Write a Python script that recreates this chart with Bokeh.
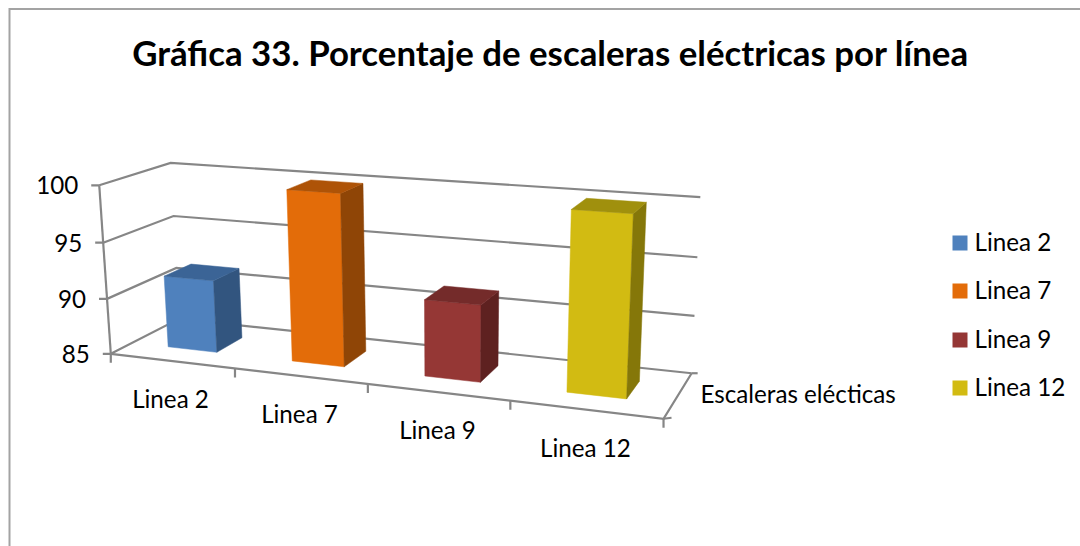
import numpy as np
from bokeh.plotting import figure
from bokeh.models import Range1d
from bokeh.core.properties import value
from bokeh.embed import file_html
from bokeh.resources import INLINE

# ---- data ----
title = "Gráfica 33. Porcentaje de escaleras eléctricas por línea"
categories = ["Linea 2", "Linea 7", "Linea 9", "Linea 12"]
series_values = [91.5, 100.0, 91.6, 100.0]
value_ticks = [85, 90, 95, 100]
depth_label = "Escaleras elécticas"
front_colors = ["#4F81BD", "#E36C09", "#953735", "#D2BB12"]
top_colors = ["#3B6496", "#AE5307", "#742B2A", "#A0900D"]
side_colors = ["#32557F", "#8F4506", "#5E2120", "#857709"]

V0, V1 = value_ticks[0], value_ticks[-1]
FONT = "Lato"
INK = "#000000"
GRID = "#868686"
LABEL_SIZE = "24.2px"

# ---- camera calibration: (category axis u, depth d, height h) -> page pixel ----
cal = [
    (0, 0, 0, 110, 354), (0, 0, 1/3, 106, 298), (0, 0, 2/3, 103, 241), (0, 0, 1, 100, 185),
    (0, 1, 0, 180, 318.5), (0, 1, 1/3, 176, 267), (0, 1, 2/3, 172, 215.7), (0, 1, 1, 169.3, 162.7),
    (1, 1, 0, 691, 372), (1, 1, 1/3, 694, 315.5), (1, 1, 2/3, 697, 257), (1, 1, 1, 700, 197),
    (.25, 0, 0, 234, 368.5), (.5, 0, 0, 367, 383.7), (.75, 0, 0, 510, 400.3), (1, 0, 0, 663, 418),
]
A, b = [], []
for u, d, h, x, y in cal:
    A.append([u, d, h, 1, 0, 0, 0, 0, -x*u, -x*d, -x*h]); b.append(x)
    A.append([0, 0, 0, 0, u, d, h, 1, -y*u, -y*d, -y*h]); b.append(y)
m = np.linalg.lstsq(np.array(A, float), np.array(b, float), rcond=None)[0]


def proj(u, d, h):
    w = m[8]*u + m[9]*d + m[10]*h + 1
    return (m[0]*u + m[1]*d + m[2]*h + m[3]) / w, (m[4]*u + m[5]*d + m[6]*h + m[7]) / w


def hv(v):
    return (v - V0) / (V1 - V0)


p = figure(width=1080, height=546, x_range=Range1d(0, 1080), y_range=Range1d(546, 0),
           toolbar_location=None, output_backend="svg", min_border=0,
           outline_line_color=None, background_fill_color="white", border_fill_color="white")
p.xaxis.visible = False
p.yaxis.visible = False
p.grid.visible = False


def seg(points, color=GRID, width=2.2):
    p.line([q[0] for q in points], [q[1] for q in points], line_color=color, line_width=width,
           line_join="miter")


# chart frame
seg([(9, 546), (9, 8.5), (1080, 8.5)], "#A3A3A3", 2)

# gridlines on the walls
for v in value_ticks:
    h = hv(v)
    seg([proj(0, 0, h), proj(0, 1, h), proj(1, 1, h)])
    x, y = proj(0, 0, h)
    seg([(x - 8, y), (x, y)])
    p.text([x - 21 + (x - 100) * 0.0], [y], text=[str(v)], text_font=value(FONT), text_font_size=LABEL_SIZE,
           text_align="right", text_baseline="middle", text_color=INK)

# axis lines
seg([proj(0, 0, 0), proj(0, 0, 1)])
seg([proj(0, 0, 0), proj(1, 0, 0), proj(1, 1, 0)])
for i in range(len(categories) + 1):
    u = i / len(categories)
    x, y = proj(u, 0, 0)
    seg([(x, y), (x, y + 9)])
x, y = proj(1, 0, 0)
seg([(x, y), (x + 8, y - 1)])
x, y = proj(1, 1, 0)
seg([(x, y), (x + 6, y)])

# bars
n = len(categories)
bw, d0, d1 = 0.4 / n, 0.3, 0.7
for i, v in enumerate(series_values):
    u0 = (i + 0.5) / n - bw / 2
    u1 = (i + 0.5) / n + bw / 2
    h = hv(v)
    faces = [
        ([(u0, d0, 0), (u1, d0, 0), (u1, d0, h), (u0, d0, h)], front_colors[i]),
        ([(u1, d0, 0), (u1, d1, 0), (u1, d1, h), (u1, d0, h)], side_colors[i]),
        ([(u0, d0, h), (u1, d0, h), (u1, d1, h), (u0, d1, h)], top_colors[i]),
    ]
    for pts, col in faces:
        xy = [proj(*q) for q in pts]
        p.patch([q[0] for q in xy], [q[1] for q in xy], fill_color=col, line_color=col, line_width=0.5)

# category labels
label_pos = [(170, 398), (299, 413), (437, 429), (585, 447)]
for name, (x, y) in zip(categories, label_pos):
    p.text([x], [y], text=[name], text_font=value(FONT), text_font_size=LABEL_SIZE,
           text_align="center", text_baseline="middle", text_color=INK)
p.text([700], [393], text=[depth_label], text_font=value(FONT), text_font_size=LABEL_SIZE,
       text_align="left", text_baseline="middle", text_color=INK)

# legend
for name, col, yc in zip(categories, front_colors, [242.5, 290.5, 339.5, 387.5]):
    p.rect([959.5], [yc], width=15, height=15, fill_color=col, line_color=None)
    p.text([974], [yc - 2], text=[name], text_font=value(FONT), text_font_size=LABEL_SIZE,
           text_align="left", text_baseline="middle", text_color=INK)

# title
p.text([550], [52], text=[title], text_font=value(FONT), text_font_size="34.8px", text_font_style="bold",
       text_align="center", text_baseline="middle", text_color=INK)

open("out.html", "w").write(file_html(p, INLINE))
